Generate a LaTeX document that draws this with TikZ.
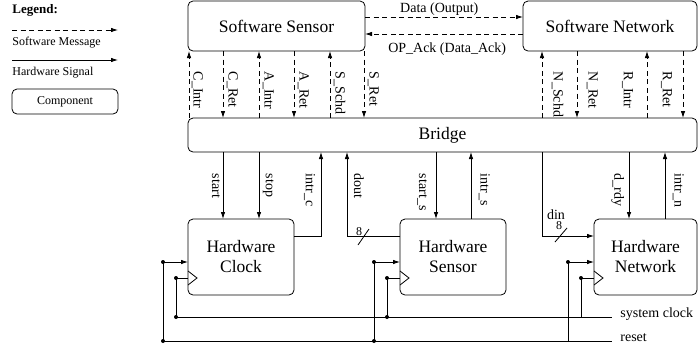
\documentclass[tikz,border=0pt]{standalone}
\usepackage{fontspec}
\setmainfont{Liberation Serif}
\usetikzlibrary{arrows.meta}
\begin{document}
\begin{tikzpicture}[x=1pt,y=-1pt,
  line width=0.8pt,
  hw/.style={-{Latex[length=7pt,width=4.5pt]}},
  sw/.style={hw, dash pattern=on 5pt off 3.5pt},
  box/.style={draw, rounded corners=5pt, outer sep=0pt, inner sep=0pt, align=center, font=\fontsize{17.5}{20}\selectfont},
  lab/.style={font=\fontsize{14}{16}\selectfont, inner sep=0.5pt},
  rl/.style={lab, rotate=-90, anchor=south west},
  ll/.style={lab, rotate=-90, anchor=north west},
  leg/.style={font=\fontsize{12}{14}\selectfont, inner sep=0pt, anchor=west},
  small/.style={font=\fontsize{12}{14}\selectfont, inner sep=0pt}
]
\useasboundingbox (0,0) rectangle (698,349);

% legend
\node[font=\bfseries\fontsize{13}{15}\selectfont, anchor=west, inner sep=0pt] (legt) at (12,10) {Legend:};
\coordinate (l1a) at (12,30); \coordinate (l1b) at (118,30);
\draw[sw] (l1a) -- (l1b);
\node[leg] (l1t) at (12,43) {Software Message};
\coordinate (l2a) at (12,60); \coordinate (l2b) at (118,60);
\draw[hw] (l2a) -- (l2b);
\node[leg] (l2t) at (12,73) {Hardware Signal};
\node[box, font=\fontsize{12}{14}\selectfont, minimum width=106pt, minimum height=25pt] (lcomp) at (65,101.5) {Component};

% boxes
\node[box, minimum width=177pt, minimum height=50pt] (ss) at (276.5,26) {Software Sensor};
\node[box, minimum width=174pt, minimum height=50pt] (sn) at (610,26) {Software Network};
\node[box, minimum width=509pt, minimum height=34pt] (br) at (442.5,135) {Bridge};
\node[box, minimum width=106pt, minimum height=76pt] (hc) at (241,257) {Hardware\\Clock};
\node[box, minimum width=106pt, minimum height=76pt] (hs) at (453,257) {Hardware\\Sensor};
\node[box, minimum width=103pt, minimum height=76pt] (hn) at (645.5,257) {Hardware\\Network};

% software messages between SS and SN
\draw[sw] ([yshift=9pt]ss.east) -- node[lab, pos=0.47, anchor=base, yshift=5pt] (dlab) {Data (Output)} ([yshift=9pt]sn.west);
\draw[sw] ([yshift=-8pt]sn.west) -- node[lab, pos=0.48, anchor=base, yshift=-18pt] (alab) {OP\_Ack (Data\_Ack)} ([yshift=-8pt]ss.east);

% x positions
\foreach \n/\x in {cintr/189, cret/223, aintr/259, aret/294, sschd/330, sret/364,
                   nschd/542, nret/577, rintr/647, rret/683,
                   start/223, stop/259, intrc/321, dout/347, starts/436, intrs/471,
                   din/542, drdy/629, intrn/665}
  \coordinate (x\n) at (\x,0);

% SS <-> Bridge
\foreach \n in {cintr, aintr, sschd} \draw[sw] (br.north -| x\n) -- (ss.south -| x\n);
\foreach \n in {cret, aret, sret} \draw[sw] (ss.south -| x\n) -- (br.north -| x\n);
% SN <-> Bridge
\foreach \n in {nschd, rintr} \draw[sw] (br.north -| x\n) -- (sn.south -| x\n);
\foreach \n in {nret, rret} \draw[sw] (sn.south -| x\n) -- (br.north -| x\n);

\node[rl] (t1) at (191,71) {C\_Intr};
\node[rl] (t2) at (226,71) {C\_Ret};
\node[rl] (t3) at (262,71) {A\_Intr};
\node[rl] (t4) at (297,71) {A\_Ret};
\node[rl] (t5) at (333,71) {S\_Schd};
\node[rl] (t6) at (367,71) {S\_Ret};
\node[rl] (t7) at (551,71) {N\_Schd};
\node[rl] (t8) at (586,71) {N\_Ret};
\node[ll] (t9) at (634,71) {R\_Intr};
\node[ll] (t10) at (673,71) {R\_Ret};

% Bridge <-> hardware
\draw[hw] (br.south -| xstart) -- (hc.north -| xstart);
\draw[hw] (br.south -| xstop) -- (hc.north -| xstop);
\draw[hw] ([yshift=21pt]hc.east) -| (br.south -| xintrc);
\draw[hw] ([yshift=21pt]hs.west) -| (br.south -| xdout);
\draw[hw] (br.south -| xstarts) -- (hs.north -| xstarts);
\draw[hw] (hs.north -| xintrs) -- (br.south -| xintrs);
\draw[hw] (br.south -| xdin) |- ([yshift=21pt]hn.west);
\draw[hw] (br.south -| xdrdy) -- (hn.north -| xdrdy);
\draw[hw] (hn.north -| xintrn) -- (br.south -| xintrn);

\node[ll] (b1) at (221,173) {start};
\node[rl] (b2) at (262,173) {stop};
\node[ll] (b3) at (316,173) {intr\_c};
\node[rl] (b4) at (353,173) {dout};
\node[ll] (b5) at (428,173) {start\_s};
\node[rl] (b6) at (478,173) {intr\_s};
\node[ll] (b7) at (625,173) {d\_rdy};
\node[rl] (b8) at (672,173) {intr\_n};

% bus markers
\draw (358,245) -- (369,229);
\node[small] (bus1) at (359,232) {8};
\draw (555,242) -- (567,228);
\node[small] (bus2) at (559,226) {8};
\node[lab, anchor=base] (dinlab) at (556,219) {din};

% system clock and reset
\coordinate (rstE) at (612,341);
\coordinate (clkE) at (612,317);
\node[lab, anchor=base west, inner sep=0pt] (clklab) at (620,317) {system clock};
\node[lab, anchor=base west, inner sep=0pt] (rstlab) at (620,341) {reset};

\foreach \b/\r/\c in {hc/25/12, hs/26/13, hn/26/13} {
  \coordinate (\b R) at ([yshift=-5pt]\b.west);
  \coordinate (\b Rd) at ([xshift=-\r pt]\b R);
  \coordinate (\b C) at ([yshift=-21pt]\b.west);
  \coordinate (\b Cd) at ([xshift=-\c pt]\b C);
  \draw[hw] (\b Rd) -- (\b R);
  \draw (\b Rd) -- (\b Rd |- rstE);
  \draw (\b Cd) -- (\b C);
  \draw (\b Cd) -- (\b Cd |- clkE);
  \draw[line join=miter] ([yshift=-14pt]\b.west) -- ++(9,7) -- ++(-9,7);
  \fill (\b Rd) circle (2pt);
  \fill (\b Cd) circle (2pt);
}
\draw (hcRd |- rstE) -- (rstE);
\draw (hcCd |- clkE) -- (clkE);
\foreach \p in {hcRd, hsRd} \fill (\p |- rstE) circle (2pt);
\foreach \p in {hcCd, hsCd} \fill (\p |- clkE) circle (2pt);
\end{tikzpicture}
\end{document}
